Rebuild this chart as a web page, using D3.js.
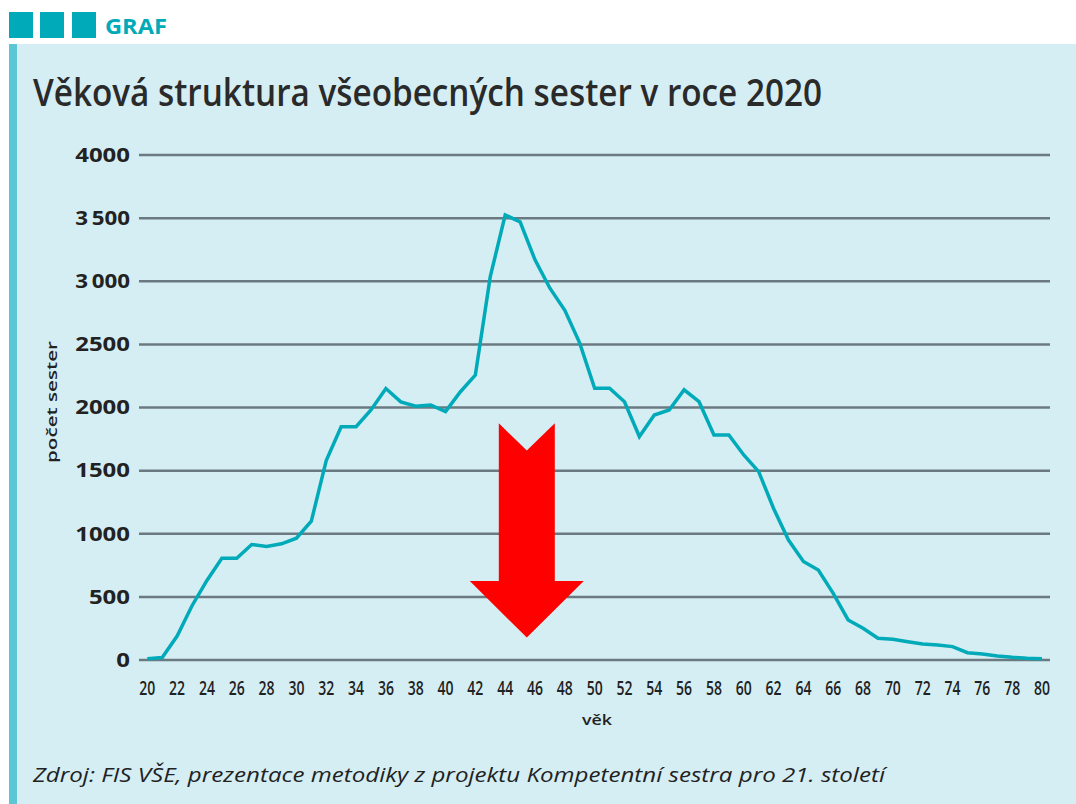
<!DOCTYPE html>
<html lang="cs">
<head>
<meta charset="UTF-8">
<title>Věková struktura všeobecných sester v roce 2020</title>
<script src="https://d3js.org/d3.v7.min.js"></script>
<style>
  body { margin: 0; background: #fff; }
  svg { display: block; }
  text { font-family: "Open Sans", "Noto Sans", sans-serif; }
</style>
</head>
<body>
<div id="chart"></div>
<script>
const width = 1076;
const height = 804;

// ages (x) and number of nurses (y)
const ages = d3.range(20, 81);
const counts = [
  10, 20, 190, 430, 630, 805, 805, 915, 900, 920,
  965, 1100, 1580, 1848, 1848, 1980, 2150, 2045, 2010, 2020,
  1967, 2125, 2257, 3036, 3525, 3470, 3170, 2945, 2770, 2510,
  2152, 2152, 2046, 1770, 1940, 1980, 2140, 2046, 1782, 1782,
  1624, 1492, 1200, 950, 780, 713, 528, 317, 251, 172,
  164, 145, 127, 119, 106, 58, 48, 32, 21, 13,
  10
];
const xTicks = d3.range(20, 81, 2);
const yTicks = [0, 500, 1000, 1500, 2000, 2500, 3000, 3500, 4000];
const yTickLabels = ["0", "500", "1000", "1500", "2000", "2500", "3\u2009000", "3\u2009500", "4000"];

const teal = "#00aab8";
const gridColor = "#6b7a80";

const svg = d3.select("#chart").append("svg")
  .attr("width", width)
  .attr("height", height);

// header
svg.selectAll(".sq")
  .data([9, 40, 72])
  .enter().append("rect")
  .attr("x", d => d)
  .attr("y", 12)
  .attr("width", 24)
  .attr("height", 26)
  .attr("fill", teal);

svg.append("text")
  .attr("x", 105)
  .attr("y", 34)
  .attr("font-size", 21)
  .attr("font-weight", "bold")
  .attr("fill", teal)
  .attr("textLength", 62)
  .attr("lengthAdjust", "spacingAndGlyphs")
  .text("GRAF");

// panel
svg.append("rect")
  .attr("x", 9).attr("y", 44)
  .attr("width", width - 9).attr("height", height - 44)
  .attr("fill", "#d5eef4");
svg.append("rect")
  .attr("x", 9).attr("y", 44)
  .attr("width", 8).attr("height", height - 44)
  .attr("fill", "#5bc7d4");

// title
svg.append("text")
  .attr("x", 33)
  .attr("y", 106)
  .attr("font-size", 38)
  .attr("font-weight", 600)
  .attr("fill", "#2a2a2a")
  .attr("textLength", 789)
  .attr("lengthAdjust", "spacingAndGlyphs")
  .text("Věková struktura všeobecných sester v roce 2020");

// scales
const x = d3.scaleLinear().domain([20, 80]).range([147.3, 1042]);
const y = d3.scaleLinear().domain([0, 4000]).range([660, 155]);

// gridlines
svg.append("g")
  .selectAll("line")
  .data(yTicks)
  .enter().append("line")
  .attr("x1", 139)
  .attr("x2", 1050)
  .attr("y1", d => y(d))
  .attr("y2", d => y(d))
  .attr("stroke", gridColor)
  .attr("stroke-width", 2.5);

// y tick labels
svg.append("g")
  .selectAll("text")
  .data(yTicks)
  .enter().append("text")
  .attr("x", 130)
  .attr("y", d => y(d))
  .attr("dy", "0.36em")
  .attr("text-anchor", "end")
  .attr("font-size", 19)
  .attr("font-weight", "bold")
  .attr("fill", "#222")
  .attr("textLength", (d, i) => yTickLabels[i].replace("\u2009", "").length * 13.7)
  .attr("lengthAdjust", "spacingAndGlyphs")
  .text((d, i) => yTickLabels[i]);

// x tick labels
svg.append("g")
  .selectAll("text")
  .data(xTicks)
  .enter().append("text")
  .attr("x", d => x(d))
  .attr("y", 695)
  .attr("text-anchor", "middle")
  .attr("font-size", 19)
  .attr("font-weight", 600)
  .attr("fill", "#222")
  .attr("textLength", 16)
  .attr("lengthAdjust", "spacingAndGlyphs")
  .text(d => d);

// axis titles
svg.append("text")
  .attr("x", 597)
  .attr("y", 725)
  .attr("text-anchor", "middle")
  .attr("font-size", 15)
  .attr("font-weight", 600)
  .attr("fill", "#222")
  .attr("textLength", 30)
  .attr("lengthAdjust", "spacingAndGlyphs")
  .text("věk");

svg.append("text")
  .attr("transform", "translate(57,402) rotate(-90)")
  .attr("text-anchor", "middle")
  .attr("font-size", 14)
  .attr("font-weight", 600)
  .attr("fill", "#222")
  .attr("textLength", 122)
  .attr("lengthAdjust", "spacingAndGlyphs")
  .text("počet sester");

// data line
const line = d3.line()
  .x((d, i) => x(ages[i]))
  .y(d => y(d));

svg.append("path")
  .datum(counts)
  .attr("d", line)
  .attr("fill", "none")
  .attr("stroke", teal)
  .attr("stroke-width", 3.5)
  .attr("stroke-linejoin", "miter");

// red arrow annotation
const ax = x(45.45);
const shaftHalf = 28;
const headHalf = 57;
const arrowTop = y(1875);
const notch = y(1660);
const headTop = y(625);
const tip = y(178);
svg.append("path")
  .attr("d", d3.line()([
    [ax - shaftHalf, arrowTop],
    [ax, notch],
    [ax + shaftHalf, arrowTop],
    [ax + shaftHalf, headTop],
    [ax + headHalf, headTop],
    [ax, tip],
    [ax - headHalf, headTop],
    [ax - shaftHalf, headTop]
  ]) + "Z")
  .attr("fill", "#ff0000");

// source
svg.append("text")
  .attr("x", 33)
  .attr("y", 782)
  .attr("font-size", 20)
  .attr("font-style", "italic")
  .attr("fill", "#222")
  .attr("textLength", 852)
  .attr("lengthAdjust", "spacingAndGlyphs")
  .text("Zdroj: FIS VŠE, prezentace metodiky z projektu Kompetentní sestra pro 21. století");
</script>
</body>
</html>
